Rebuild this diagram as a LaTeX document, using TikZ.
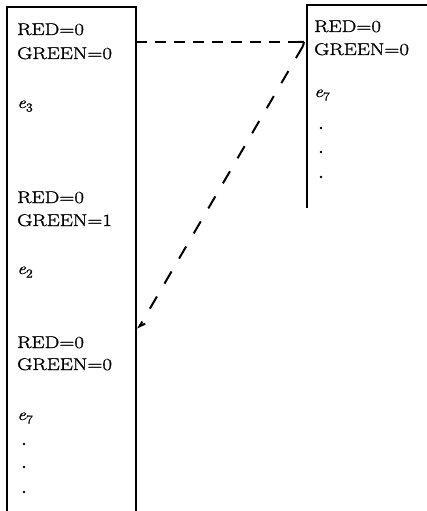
\documentclass[tikz,border=0pt]{standalone}
\usepackage{fontspec}
\newfontfamily\heavyfont{Latin Modern Roman}[FakeBold=1.2]
\usetikzlibrary{arrows.meta}
\newcommand\evar[1]{\scalebox{1.15}[1]{\itshape e\raisebox{-3.5pt}{\fontsize{12}{12}\selectfont\upshape #1}}}
\begin{document}
\begin{tikzpicture}[x=1pt,y=-1pt,
  col/.style={line width=2.4pt},
  lbl/.style={anchor=base west,inner sep=0pt,font=\fontsize{17}{20}\selectfont\heavyfont},
  pt/.style={circle,fill=black,inner sep=0pt,minimum size=2.6pt},
  hdash/.style={line width=2.2pt,dash pattern=on 11pt off 8pt},
  ddash/.style={line width=2pt,dash pattern=on 14pt off 15pt}]
\useasboundingbox (0,0) rectangle (427,511);
% columns
\draw[col] (7,511) -- (7,7) -- (136,7) -- (136,511);
\draw[col] (307,208) -- (307,5) -- (427,5);
% left column texts
\node[lbl] (r1) at (17,35) {\scalebox{1.23}[1]{RED=0}};
\node[lbl] (g1) at (17,59) {\scalebox{1.23}[1]{GREEN=0}};
\node[lbl] (e3) at (17,108) {\evar{3}};
\node[lbl] (r2) at (17,203) {\scalebox{1.23}[1]{RED=0}};
\node[lbl] (g2) at (17,226) {\scalebox{1.23}[1]{GREEN=1}};
\node[lbl] (e2) at (17,274) {\evar{2}};
\node[lbl] (r3) at (17,348) {\scalebox{1.23}[1]{RED=0}};
\node[lbl] (g3) at (17,370) {\scalebox{1.23}[1]{GREEN=0}};
\node[lbl] (e7a) at (17,420) {\evar{7}};
\node[pt] (la) at (24,444) {};
\node[pt] (lb) at (24,467) {};
\node[pt] (lc) at (24,492) {};
% right column texts
\node[lbl] (r4) at (314,32) {\scalebox{1.23}[1]{RED=0}};
\node[lbl] (g4) at (314,55) {\scalebox{1.23}[1]{GREEN=0}};
\node[lbl] (e7b) at (314,97) {\evar{7}};
\node[pt] (ra) at (321,128) {};
\node[pt] (rb) at (321,152) {};
\node[pt] (rc) at (321,177) {};
% connectors
\coordinate (hA) at (136,42);
\coordinate (hB) at (304,42);
\coordinate (dA) at (303,46);
\coordinate (dB) at (138,329);
\draw[hdash] (hA) -- (hB);
\draw[line width=2pt] (hB) -- ++(-6,0) (hB) -- ++(-1,4);
\draw[ddash,-{Straight Barb[length=5pt,width=7pt,left]}] (dA) -- (dB);
\end{tikzpicture}
\end{document}
